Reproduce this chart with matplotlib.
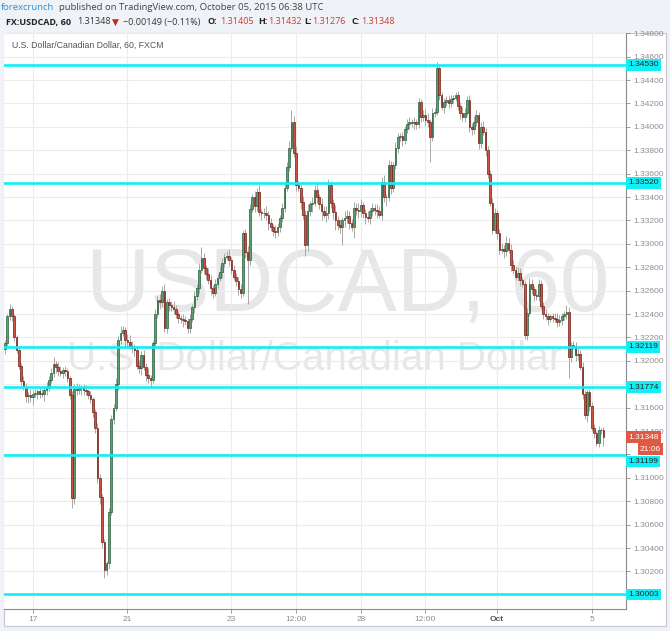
import numpy as np
import matplotlib.pyplot as plt
import matplotlib.transforms as mtransforms
from matplotlib.patches import Rectangle

W, H = 670, 631

# hourly USDCAD closes, pips above 1.3000
close_pips = [
    215, 238, 244, 238, 220, 209, 196, 183, 178, 170, 171, 169, 172, 172, 174, 172, 172, 175, 177, 184,
    190, 197, 195, 191, 190, 192, 191, 185, 171, 83, 176, 175, 177, 177, 175, 174, 171, 167, 156, 143,
    100, 84, 45, 21, 27, 71, 150, 160, 180, 218, 224, 226, 218, 216, 213, 211, 209, 196, 194, 205,
    195, 188, 185, 184, 215, 240, 252, 250, 260, 228, 250, 248, 246, 244, 240, 237, 236, 235, 234, 228,
    236, 246, 255, 262, 278, 288, 279, 274, 269, 262, 258, 266, 271, 276, 284, 289, 290, 286, 278, 272,
    268, 261, 258, 309, 293, 286, 330, 340, 332, 344, 327, 326, 326, 325, 318, 314, 311, 310, 314, 322,
    331, 348, 366, 382, 404, 378, 350, 348, 336, 325, 299, 328, 334, 335, 346, 340, 334, 328, 325, 326,
    350, 335, 327, 320, 316, 314, 320, 322, 324, 318, 314, 331, 329, 328, 333, 326, 323, 322, 328, 331,
    329, 328, 325, 353, 340, 340, 367, 348, 367, 382, 391, 392, 389, 398, 402, 404, 403, 404, 402, 421,
    408, 410, 406, 404, 391, 412, 413, 450, 427, 417, 421, 423, 420, 424, 425, 427, 418, 412, 408, 412,
    423, 400, 398, 404, 410, 386, 400, 396, 380, 360, 335, 312, 326, 309, 295, 296, 294, 301, 295, 282,
    278, 272, 275, 269, 266, 222, 241, 266, 261, 256, 255, 266, 247, 240, 238, 236, 238, 237, 236, 233,
    235, 238, 240, 242, 203, 213, 213, 205, 206, 195, 172, 154, 173, 161, 143, 138, 130, 141, 140.5, 134.8,
]
first_open = 210

# wick lengths in pips beyond the candle body
wick_up = [
    3, 2, 5, 3, 2, 2, 3, 2, 4, 3, 2, 5, 3, 4, 2, 3, 4, 3, 5, 3,
    4, 6, 3, 4, 5, 3, 4, 3, 2, 3, 4, 5, 3, 2, 3, 4, 2, 3, 2, 3,
    4, 3, 2, 3, 2, 3, 4, 3, 5, 3, 6, 4, 3, 5, 6, 4, 3, 4, 5, 3,
    4, 3, 6, 3, 2, 4, 3, 5, 4, 6, 3, 4, 3, 5, 4, 3, 2, 4, 3, 3,
    4, 3, 5, 4, 6, 9, 4, 3, 5, 4, 3, 4, 3, 5, 4, 3, 4, 6, 3, 4,
    3, 4, 5, 3, 4, 5, 4, 3, 5, 4, 6, 3, 5, 6, 3, 4, 3, 5, 4, 3,
    4, 5, 4, 6, 10, 5, 6, 4, 3, 5, 4, 6, 3, 5, 4, 6, 3, 5, 4, 6,
    5, 4, 3, 6, 4, 5, 3, 6, 5, 4, 3, 5, 4, 6, 5, 3, 4, 5, 3, 4,
    3, 5, 4, 4, 6, 3, 5, 4, 3, 5, 4, 3, 4, 3, 5, 4, 3, 4, 3, 4,
    3, 4, 5, 6, 3, 4, 3, 5, 4, 3, 4, 3, 4, 3, 2, 3, 4, 3, 5, 4,
    3, 4, 3, 5, 4, 3, 4, 5, 3, 4, 3, 4, 5, 3, 4, 5, 3, 6, 4, 5,
    4, 3, 5, 4, 3, 2, 4, 5, 4, 3, 5, 4, 3, 3, 4, 3, 2, 3, 4, 5,
    4, 3, 3, 6, 4, 3, 4, 3, 5, 3, 4, 3, 2, 3, 4, 3, 2, 3, 2, 2.7,
]
wick_dn = [
    4, 2, 3, 4, 3, 2, 3, 4, 3, 5, 6, 4, 7, 3, 5, 4, 3, 6, 4, 3,
    3, 4, 5, 4, 3, 5, 4, 3, 4, 9, 5, 4, 3, 6, 4, 3, 4, 3, 4, 5,
    4, 6, 5, 7, 4, 5, 3, 4, 3, 5, 4, 3, 6, 4, 3, 4, 5, 3, 4, 6,
    3, 5, 4, 7, 3, 4, 3, 6, 4, 3, 4, 5, 3, 4, 3, 5, 4, 6, 3, 4,
    4, 3, 5, 3, 4, 3, 5, 4, 3, 6, 4, 3, 4, 3, 5, 4, 3, 5, 4, 3,
    4, 5, 4, 3, 5, 37, 4, 3, 5, 4, 3, 6, 4, 5, 6, 3, 4, 5, 3, 4,
    3, 4, 3, 4, 3, 4, 5, 3, 6, 4, 9, 5, 4, 7, 3, 5, 4, 8, 3, 6,
    5, 4, 6, 8, 4, 5, 15, 6, 4, 5, 3, 9, 4, 6, 5, 4, 6, 3, 5, 4,
    4, 6, 3, 5, 4, 8, 3, 5, 4, 3, 4, 3, 5, 4, 3, 4, 3, 5, 4, 3,
    4, 3, 5, 4, 21, 3, 4, 3, 4, 3, 5, 3, 4, 3, 4, 3, 4, 5, 3, 4,
    3, 4, 5, 4, 3, 5, 4, 3, 5, 4, 3, 4, 3, 5, 4, 3, 6, 4, 3, 5,
    4, 3, 4, 5, 3, 3, 4, 3, 4, 5, 3, 4, 3, 4, 3, 5, 3, 4, 3, 4,
    3, 4, 3, 4, 18, 4, 3, 5, 4, 3, 5, 4, 6, 4, 3, 4, 3, 4, 3, 7.2,
]

levels = [1.34530, 1.33520, 1.32119, 1.31774, 1.31199, 1.30003]
tick_idx = [12, 53, 98, 126, 154, 182, 213, 254]
tick_lbl = ['17', '21', '23', '12:00', '28', '12:00', 'Oct', '5']
hidden_ticks = ['1.31200', '1.31800']  # covered by the level tags in the original
last_price = 1.31348

close = 1.3 + np.array(close_pips) / 10000
opn = np.r_[1.3 + first_open / 10000, close[:-1]]
high = np.maximum(opn, close) + np.array(wick_up) / 10000
low = np.minimum(opn, close) - np.array(wick_dn) / 10000
x = np.arange(len(close))


def fx(px):
    return px / W


def fy(py):
    return 1 - py / H


fig = plt.figure(figsize=(W / 100, H / 100), dpi=100, facecolor='#eff2f6')
fig.add_artist(Rectangle((fx(4), fy(626)), fx(662), 593 / H, transform=fig.transFigure,
                         facecolor='white', edgecolor='#c3c8cf', lw=0.8, zorder=0))

ax = fig.add_axes([fx(4), fy(609), fx(622), 576 / H])
ax.set_facecolor('white')
ax.set_xlim(-0.43, 268.8)
ax.set_ylim(1.29879, 1.34802)

# watermark
ax.text(0.553, 0.559, 'USDCAD, 60', transform=ax.transAxes, ha='center', va='center',
        fontsize=64, color='#e7e7e7', family='Liberation Sans', zorder=0)
ax.text(0.499, 0.434, 'U.S. Dollar/Canadian Dollar', transform=ax.transAxes, ha='center',
        va='center', fontsize=29, color='#e7e7e7', family='Liberation Sans', zorder=0)

up = close >= opn
ax.vlines(x, low, high, color='#a8a8a8', lw=0.7, zorder=2)
body = np.maximum(np.abs(close - opn), 0.00003)
ax.bar(x[up], body[up], bottom=np.minimum(opn, close)[up], width=0.72,
       color='#5a9e72', edgecolor='#2a5e3e', lw=0.5, zorder=3)
ax.bar(x[~up], body[~up], bottom=np.minimum(opn, close)[~up], width=0.72,
       color='#cf513e', edgecolor='#6e1f15', lw=0.5, zorder=3)

for lv in levels:
    ax.axhline(lv, color='#12eef5', lw=1.9, zorder=4)

# axes styling
ax.yaxis.tick_right()
yt = np.arange(1.302, 1.3481, 0.002)
ax.set_yticks(yt)
ax.set_yticklabels(['' if '%.5f' % v in hidden_ticks else '%.5f' % v for v in yt])
ax.set_xticks(tick_idx)
ax.set_xticklabels(tick_lbl)
ax.tick_params(axis='both', labelsize=6, colors='#8d8d8d', length=3, width=0.6, pad=2)
for lab in ax.get_xticklabels() + ax.get_yticklabels():
    lab.set_family('Liberation Sans')
xl = ax.get_xticklabels()
xl[6].set_fontweight('bold')
xl[6].set_color('#555555')
ax.grid(color='#ececec', lw=0.8, zorder=0)
ax.set_axisbelow(True)
for s in ['top', 'left']:
    ax.spines[s].set_visible(False)
for s in ['right', 'bottom']:
    ax.spines[s].set_color('#8a8a8a')
    ax.spines[s].set_linewidth(0.8)

# price scale labels (the 1.31199 tag is pushed down below the countdown tag)
tr = mtransforms.blended_transform_factory(ax.transAxes, ax.transData)
for lv in levels:
    shift = -7 if lv == 1.31199 else 0
    ax.annotate('%.5f' % lv, xy=(1.0, lv), xycoords=tr, xytext=(2, shift),
                textcoords='offset pixels', ha='left', va='center', fontsize=6,
                family='Liberation Sans', color='#222222', annotation_clip=False, zorder=6,
                bbox=dict(boxstyle='square,pad=0.28', fc='#12eef5', ec='none'))
ax.annotate('%.5f' % last_price, xy=(1.0, last_price), xycoords=tr, xytext=(2, 0),
            textcoords='offset pixels', ha='left', va='center', fontsize=6,
            family='Liberation Sans', color='white', annotation_clip=False, zorder=7,
            bbox=dict(boxstyle='square,pad=0.28', fc='#dd5a44', ec='none'))
ax.annotate('21:06', xy=(1.0, last_price), xycoords=tr, xytext=(14, -12),
            textcoords='offset pixels', ha='left', va='center', fontsize=6,
            family='Liberation Sans', color='white', annotation_clip=False, zorder=7,
            bbox=dict(boxstyle='square,pad=0.28', fc='#dd5a44', ec='none'))

# chart title inside pane
fig.text(fx(12), fy(45), 'U.S. Dollar/Canadian Dollar, 60, FXCM', fontsize=6.3,
         color='#555555', family='Liberation Sans', va='center')

# header
hf = 'Open Sans'
fig.text(fx(1), fy(7), 'forexcrunch', fontsize=6.8, color='#2a8fd6', family=hf, va='center')
fig.text(fx(59), fy(7), 'published on TradingView.com, October 05, 2015 06:38 UTC',
         fontsize=6.8, color='#444444', family=hf, va='center')
fig.text(fx(6), fy(22), 'FX:USDCAD, 60', fontsize=6.5, color='#222222', family=hf,
         weight='bold', va='center')
fig.text(fx(77), fy(22), '1.31348', fontsize=6.5, color='#333333', family=hf, va='center')
fig.text(fx(112), fy(22.5), '\u25BC', fontsize=6.5, color='#c0281d', family='DejaVu Sans',
         va='center')
fig.text(fx(123), fy(22), '\u22120.00149 (\u22120.11%)', fontsize=6.5, color='#333333',
         family=hf, va='center')
ohlc = [('O:', 208, 220, '1.31405'), ('H:', 258, 268, '1.31432'),
        ('L:', 304, 312, '1.31276'), ('C:', 351, 361, '1.31348')]
for k, kx, vx, v in ohlc:
    fig.text(fx(kx), fy(22), k, fontsize=6.5, color='#222222', family=hf, weight='bold',
             va='center')
    fig.text(fx(vx), fy(22), v, fontsize=6.5, color='#cc3b30', family=hf, va='center')

fig.savefig('out.png', dpi=100, facecolor=fig.get_facecolor())
